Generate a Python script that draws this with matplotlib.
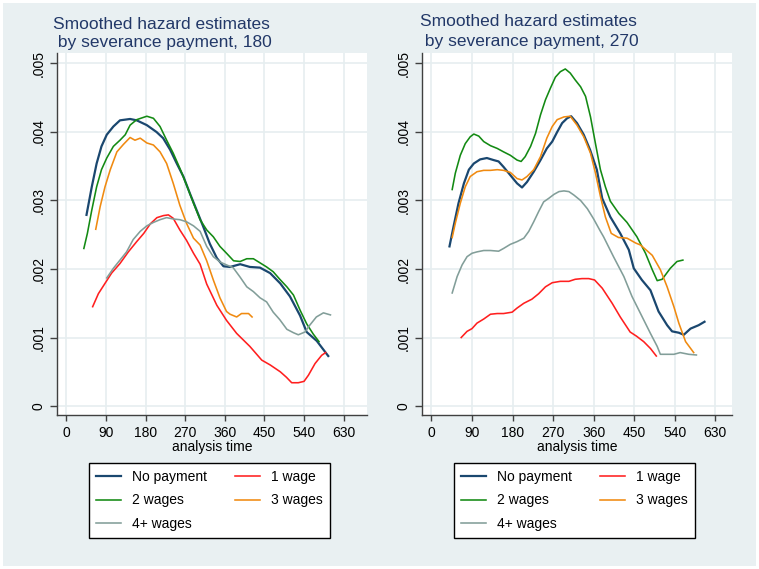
import numpy as np
import matplotlib
matplotlib.use('Agg')
import matplotlib.pyplot as plt
from matplotlib.patches import Rectangle

plt.rcParams['font.family'] = ['Liberation Sans', 'DejaVu Sans']

# ---- data (hazard values in units of 1e-3) ----
# panel "180"
t180_none = [46, 58, 69, 80, 92, 107, 122, 145, 160, 183, 205, 220, 236, 251, 266, 281, 296, 311, 326, 342,
             357, 372, 395, 417, 440, 463, 486, 508, 531, 546, 569, 595]
h180_none = [2.79, 3.20, 3.54, 3.79, 3.96, 4.08, 4.17, 4.19, 4.17, 4.10, 4.00, 3.91, 3.74, 3.54, 3.35, 3.10,
             2.86, 2.62, 2.37, 2.16, 2.04, 2.03, 2.07, 2.03, 2.02, 1.94, 1.79, 1.60, 1.32, 1.08, 0.95, 0.73]
t180_w1 = [60, 73, 88, 103, 122, 141, 160, 176, 191, 206, 221, 232, 243, 258, 273, 289, 304, 319, 342, 364,
           387, 417, 444, 463, 486, 500, 512, 527, 540, 550, 565, 580, 589]
h180_w1 = [1.45, 1.64, 1.79, 1.94, 2.08, 2.25, 2.40, 2.52, 2.66, 2.75, 2.78, 2.79, 2.74, 2.57, 2.42, 2.23,
           2.07, 1.78, 1.47, 1.25, 1.06, 0.87, 0.67, 0.60, 0.50, 0.42, 0.34, 0.34, 0.36, 0.45, 0.62, 0.74, 0.78]
t180_w2 = [40, 48, 58, 69, 80, 92, 107, 122, 134, 145, 160, 183, 198, 213, 228, 243, 258, 273, 289, 304,
           319, 334, 349, 364, 380, 395, 410, 425, 440, 455, 470, 485, 501, 516, 531, 546, 561, 574]
h180_w2 = [2.30, 2.52, 2.86, 3.20, 3.45, 3.62, 3.79, 3.88, 3.96, 4.10, 4.18, 4.23, 4.20, 4.08, 3.88, 3.69,
           3.47, 3.23, 2.96, 2.72, 2.57, 2.47, 2.33, 2.23, 2.12, 2.11, 2.15, 2.15, 2.09, 2.03, 1.96, 1.85,
           1.74, 1.62, 1.40, 1.20, 1.05, 0.94]
t180_w3 = [67, 77, 88, 100, 115, 130, 145, 156, 168, 183, 198, 213, 228, 243, 258, 273, 289, 304, 319, 334,
           349, 364, 372, 387, 398, 414, 422]
h180_w3 = [2.58, 2.91, 3.20, 3.45, 3.71, 3.82, 3.92, 3.88, 3.91, 3.84, 3.81, 3.71, 3.54, 3.25, 2.93, 2.67,
           2.45, 2.35, 2.12, 1.84, 1.58, 1.38, 1.34, 1.30, 1.35, 1.35, 1.30]
t180_w4 = [92, 107, 122, 137, 152, 168, 183, 198, 213, 228, 243, 258, 273, 289, 304, 319, 334, 350, 364, 379,
           395, 410, 425, 440, 455, 470, 485, 501, 516, 527, 542, 553, 568, 584, 600]
h180_w4 = [1.87, 2.01, 2.13, 2.25, 2.43, 2.55, 2.63, 2.68, 2.72, 2.75, 2.73, 2.72, 2.69, 2.63, 2.55, 2.33,
           2.18, 2.10, 2.06, 2.02, 1.88, 1.74, 1.67, 1.58, 1.52, 1.37, 1.26, 1.12, 1.07, 1.04, 1.08, 1.18,
           1.30, 1.36, 1.33]

# panel "270"
t270_none = [40, 49, 60, 72, 83, 94, 108, 123, 138, 149, 160, 175, 190, 201, 212, 227, 242, 256, 268, 279,
             290, 301, 310, 323, 338, 352, 367, 379, 397, 419, 438, 449, 467, 486, 504, 523, 534, 549, 560,
             575, 593, 606]
h270_none = [2.33, 2.62, 2.96, 3.25, 3.45, 3.54, 3.60, 3.62, 3.59, 3.57, 3.49, 3.37, 3.25, 3.19, 3.27, 3.42,
             3.59, 3.76, 3.86, 4.00, 4.13, 4.20, 4.23, 4.13, 3.96, 3.74, 3.45, 3.03, 2.76, 2.52, 2.28, 2.01,
             1.84, 1.69, 1.38, 1.18, 1.09, 1.07, 1.04, 1.13, 1.18, 1.23]
t270_w1 = [66, 79, 90, 101, 116, 131, 146, 160, 179, 190, 205, 223, 238, 253, 268, 286, 305, 319, 334, 349,
           362, 379, 401, 419, 441, 455, 471, 486, 499]
h270_w1 = [1.00, 1.09, 1.13, 1.21, 1.27, 1.34, 1.35, 1.35, 1.37, 1.43, 1.50, 1.56, 1.64, 1.74, 1.80, 1.82,
           1.82, 1.85, 1.86, 1.86, 1.84, 1.72, 1.50, 1.30, 1.08, 1.02, 0.94, 0.84, 0.73]
t270_w2 = [46, 53, 64, 75, 86, 94, 105, 116, 131, 146, 160, 175, 190, 199, 208, 220, 231, 242, 253, 264,
           275, 286, 297, 308, 319, 331, 342, 353, 364, 375, 386, 397, 416, 434, 456, 475, 490, 501, 512,
           530, 545, 558]
h270_w2 = [3.16, 3.40, 3.66, 3.83, 3.93, 3.97, 3.94, 3.86, 3.80, 3.76, 3.71, 3.66, 3.59, 3.57, 3.64, 3.79,
           3.98, 4.25, 4.47, 4.64, 4.80, 4.88, 4.92, 4.86, 4.76, 4.66, 4.52, 4.22, 3.83, 3.45, 3.20, 2.99,
           2.81, 2.68, 2.47, 2.23, 1.99, 1.83, 1.85, 2.01, 2.11, 2.13]
t270_w3 = [46, 53, 64, 75, 86, 101, 116, 131, 146, 160, 175, 190, 201, 212, 227, 242, 256, 268, 279, 294,
           308, 323, 338, 353, 364, 375, 386, 399, 415, 434, 453, 464, 490, 508, 523, 538, 549, 564, 582]
h270_w3 = [2.46, 2.67, 2.96, 3.20, 3.35, 3.42, 3.44, 3.44, 3.45, 3.44, 3.41, 3.32, 3.30, 3.35, 3.45, 3.64,
           3.91, 4.08, 4.18, 4.22, 4.23, 4.10, 3.93, 3.69, 3.40, 3.06, 2.76, 2.52, 2.46, 2.45, 2.38, 2.35,
           2.20, 1.99, 1.74, 1.45, 1.21, 0.94, 0.78]
t270_w4 = [46, 57, 68, 79, 90, 101, 116, 131, 149, 160, 175, 190, 205, 216, 227, 238, 249, 260, 272, 283,
           294, 305, 316, 331, 346, 360, 375, 382, 404, 427, 445, 464, 486, 501, 508, 538, 552, 571, 588]
h270_w4 = [1.65, 1.89, 2.06, 2.18, 2.23, 2.25, 2.27, 2.27, 2.26, 2.30, 2.36, 2.40, 2.45, 2.55, 2.69, 2.84,
           2.98, 3.03, 3.09, 3.13, 3.14, 3.13, 3.08, 3.00, 2.88, 2.73, 2.55, 2.47, 2.18, 1.89, 1.60, 1.35,
           1.06, 0.87, 0.755, 0.755, 0.78, 0.755, 0.745]

labels = ['No payment', '1 wage', '2 wages', '3 wages', '4+ wages']
colors = ['#1a476f', '#ff1f1f', '#138a13', '#f08a10', '#829e99']
widths = [1.6, 1.15, 1.15, 1.15, 1.15]
xticks = [0, 90, 180, 270, 360, 450, 540, 630]
yticks = [0, 0.001, 0.002, 0.003, 0.004, 0.005]
ytick_labels = ['0', '.001', '.002', '.003', '.004', '.005']

panels = [
    ('180', [(t180_none, h180_none), (t180_w1, h180_w1), (t180_w2, h180_w2),
             (t180_w3, h180_w3), (t180_w4, h180_w4)]),
    ('270', [(t270_none, h270_none), (t270_w1, h270_w1), (t270_w2, h270_w2),
             (t270_w3, h270_w3), (t270_w4, h270_w4)]),
]

W, H = 759, 569
BG = '#e9f0f2'
GRID = '#e6eef0'
TITLE = '#223868'

fig = plt.figure(figsize=(W / 100, H / 100), dpi=100)
fig.patch.set_facecolor('white')
fig.patches.append(Rectangle((3 / W, 3 / H), 753 / W, 563 / H, transform=fig.transFigure,
                             facecolor=BG, edgecolor='none', zorder=-5))

# pixel layout of each panel: axes left, right edge, xlim, title x, title baselines, legend box left
layout = [
    dict(left=57, right=367, xlim=(-21, 683), tx=53, tb=(29, 47), lx=89),
    dict(left=422, right=732, xlim=(-21, 667), tx=420, tb=(26, 46), lx=454),
]

for (name, series), lay in zip(panels, layout):
    ax = fig.add_axes([lay['left'] / W, 1 - 415 / H, (lay['right'] - lay['left']) / W, 362 / H])
    ax.set_facecolor('white')
    lines = []
    for (t, h), lab, c, lw in zip(series, labels, colors, widths):
        ln, = ax.plot(t, np.array(h) * 1e-3, color=c, lw=lw, label=lab)
        lines.append(ln)

    ax.set_xlim(*lay['xlim'])
    ax.set_ylim(-0.000131, 0.005153)
    ax.set_xticks(xticks)
    ax.set_yticks(yticks)
    ax.set_yticklabels(ytick_labels, rotation=90, va='center')
    ax.grid(True, color=GRID, lw=1.2)
    ax.set_axisbelow(True)
    for s in ['top', 'right']:
        ax.spines[s].set_visible(False)
    for s in ['left', 'bottom']:
        ax.spines[s].set_color('#404040')
        ax.spines[s].set_linewidth(1.0)
    ax.tick_params(axis='x', length=4, width=1, color='#404040', labelsize=10, pad=4)
    ax.tick_params(axis='y', length=5, width=1, color='#404040', labelsize=10, pad=3)
    ax.set_xlabel('analysis time', fontsize=10, labelpad=0)

    fig.text(lay['tx'] / W, 1 - lay['tb'][0] / H, 'Smoothed hazard estimates',
             fontsize=12.5, color=TITLE, va='baseline', ha='left')
    fig.text(lay['tx'] / W, 1 - lay['tb'][1] / H, ' by severance payment, ' + name,
             fontsize=12.5, color=TITLE, va='baseline', ha='left')

    # row-wise legend order: columns are filled first in matplotlib
    order = [0, 2, 4, 1, 3]
    leg = ax.legend([lines[i] for i in order], [labels[i] for i in order],
                    ncol=2, loc='upper left', bbox_to_anchor=(lay['lx'] / W, 1 - 463 / H),
                    bbox_transform=fig.transFigure, borderaxespad=0, fontsize=10,
                    fancybox=False, framealpha=1, edgecolor='black', handlelength=1.8,
                    handletextpad=0.8, columnspacing=2.0, labelspacing=0.68, borderpad=0.5)
    leg.get_frame().set_linewidth(1.0)

fig.savefig('out.png', dpi=100, facecolor=fig.get_facecolor())
